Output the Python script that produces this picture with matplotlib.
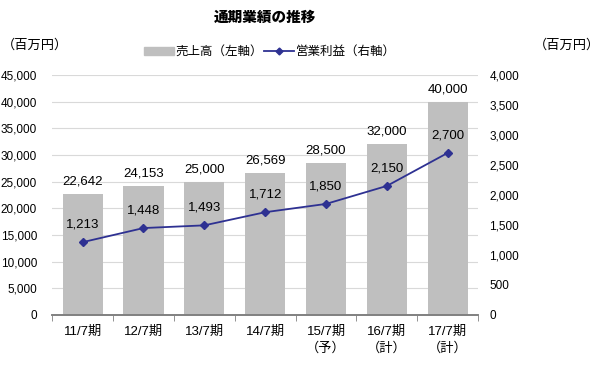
import matplotlib.pyplot as plt
import numpy as np

plt.rcParams['font.family'] = ['Liberation Sans', 'Noto Sans CJK JP', 'DejaVu Sans']

periods = ['11/7期', '12/7期', '13/7期', '14/7期', '15/7期\n（予）', '16/7期\n（計）', '17/7期\n（計）']
sales = [22642, 24153, 25000, 26569, 28500, 32000, 40000]
profit = [1213, 1448, 1493, 1712, 1850, 2150, 2700]

bar_color = '#BFBFBF'
line_color = '#2E3192'

fig = plt.figure(figsize=(6, 3.65), dpi=100)
ax = fig.add_axes([0.087, 0.137, 0.71, 0.658])
ax2 = ax.twinx()

x = np.arange(len(periods))
ax.bar(x, sales, width=0.66, color=bar_color, zorder=2)
ax2.plot(x, profit, color=line_color, marker='D', markersize=4.5, lw=1.3, zorder=3)

for xi, v in zip(x, sales):
    ax.text(xi, v + 1200, f'{v:,}', ha='center', va='bottom', fontsize=9.5)
for xi, v in zip(x, profit):
    ax2.text(xi, v + 190, f'{v:,}', ha='center', va='bottom', fontsize=9.5)

ax.set_xlim(-0.5, len(periods) - 0.5)
ax.set_ylim(0, 45000)
ax.set_yticks(np.arange(0, 45001, 5000))
ax.set_yticklabels([f'{v:,}' for v in range(0, 45001, 5000)], fontsize=8.5)
ax2.set_ylim(0, 4000)
ax2.set_yticks(np.arange(0, 4001, 500))
ax2.set_yticklabels([f'{v:,}' for v in range(0, 4001, 500)], fontsize=8.5)

ax.set_xticks(x)
ax.set_xticklabels(periods, fontsize=9.5, linespacing=1.4)
ax.set_xticks(np.arange(-0.5, len(periods)), minor=True)
ax.tick_params(axis='x', which='major', length=0, pad=8)
ax.tick_params(axis='x', which='minor', length=4, color='#808080')
ax.tick_params(axis='y', length=0, pad=11)
ax2.tick_params(axis='y', length=0, pad=8)

ax.grid(axis='y', color='#D9D9D9', lw=0.8, zorder=0)
ax.set_axisbelow(True)
for a in (ax, ax2):
    for s in ['top', 'left', 'right']:
        a.spines[s].set_visible(False)
    a.spines['bottom'].set_color('#808080')
    a.spines['bottom'].set_linewidth(1.2)

fig.text(0.442, 0.95, '通期業績の推移', ha='center', va='center', fontsize=10.5,
         fontweight='heavy')
fig.text(0.003, 0.875, '（百万円）', ha='left', va='center', fontsize=9.5)
fig.text(1.0, 0.875, '（百万円）', ha='right', va='center', fontsize=9.5)

h1 = plt.Rectangle((0, 0), 1, 1, color=bar_color)
h2 = plt.Line2D([], [], color=line_color, marker='D', markersize=3.5, lw=1.3)
fig.legend([h1, h2], ['売上高（左軸）', '営業利益（右軸）'], loc='center',
           bbox_to_anchor=(0.45, 0.857), ncol=2, frameon=False, fontsize=9,
           handlelength=2.4, handleheight=0.6, columnspacing=0.1, handletextpad=0.1)

fig.savefig('out.png', dpi=100)
